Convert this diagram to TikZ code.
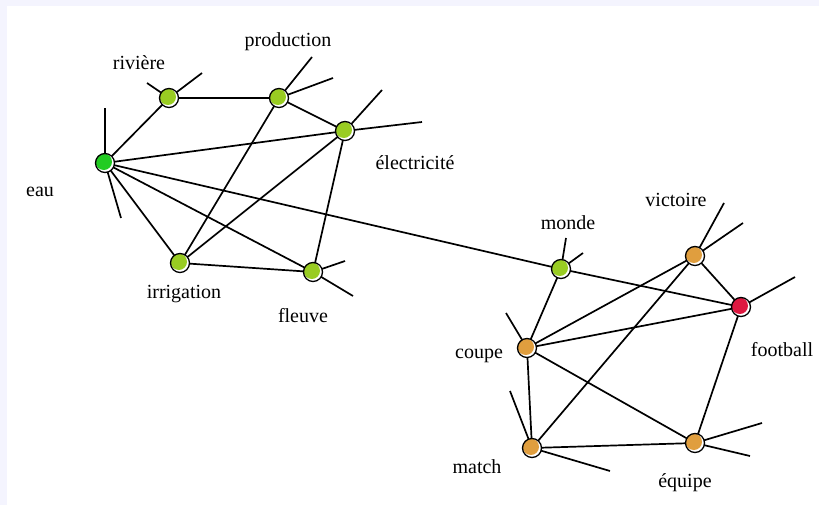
\documentclass[tikz,border=0pt]{standalone}
\usepackage{fontspec}
\setmainfont{Liberation Serif}
\definecolor{bgl}{HTML}{F4F4FE}
\definecolor{cgreen}{HTML}{22CC22}
\definecolor{clime}{HTML}{99CC22}
\definecolor{corange}{HTML}{E09E3E}
\definecolor{cred}{HTML}{DD1840}
\tikzset{
  edge/.style={line width=1.7pt, black},
  lbl/.style={font=\fontsize{20}{22}\selectfont, inner sep=0pt},
}
\newcommand{\vtx}[3]{%
  \fill[white] (#2) circle (9.5);
  \fill[#3] ($(#2)+(-1.2,-1.2)$) circle (8.2);
  \draw[line width=1.3pt] (#2) circle (9.5);
}
\usetikzlibrary{calc}
\begin{document}
\begin{tikzpicture}[x=1pt,y=-1pt]
\useasboundingbox (0,0) rectangle (819,505);
\fill[bgl] (0,0) rectangle (819,505);
\fill[white] (7,6) rectangle (819,505);
% coordinates
\coordinate (eau) at (105,163);
\coordinate (riv) at (169,98);
\coordinate (prod) at (279,98);
\coordinate (elec) at (345,131);
\coordinate (irr) at (180,263);
\coordinate (fle) at (313,272);
\coordinate (mon) at (561,269);
\coordinate (vic) at (695,256);
\coordinate (foot) at (741,307);
\coordinate (cou) at (527,348);
\coordinate (mat) at (532,448);
\coordinate (equ) at (695,443);
% stub ends
\coordinate (s1) at (105,108);
\coordinate (s2) at (121,218);
\coordinate (s3) at (147,83);
\coordinate (s4) at (202,73);
\coordinate (s5) at (312,57);
\coordinate (s6) at (333,78);
\coordinate (s7) at (382,90);
\coordinate (s8) at (422,122);
\coordinate (s9) at (345,261);
\coordinate (s10) at (353,296);
\coordinate (s11) at (566,238);
\coordinate (s12) at (583,253);
\coordinate (s13) at (724,203);
\coordinate (s14) at (743,223);
\coordinate (s15) at (795,277);
\coordinate (s16) at (506,313);
\coordinate (s17) at (510,391);
\coordinate (s18) at (610,471);
\coordinate (s19) at (762,423);
\coordinate (s20) at (750,456);
% edges
\draw[edge] (eau) -- (riv);
\draw[edge] (eau) -- (elec);
\draw[edge] (eau) -- (irr);
\draw[edge] (eau) -- (fle);
\draw[edge] (eau) -- (mon);
\draw[edge] (riv) -- (prod);
\draw[edge] (prod) -- (elec);
\draw[edge] (prod) -- (irr);
\draw[edge] (elec) -- (irr);
\draw[edge] (elec) -- (fle);
\draw[edge] (irr) -- (fle);
\draw[edge] (mon) -- (foot);
\draw[edge] (mon) -- (cou);
\draw[edge] (vic) -- (cou);
\draw[edge] (vic) -- (mat);
\draw[edge] (vic) -- (foot);
\draw[edge] (foot) -- (cou);
\draw[edge] (foot) -- (equ);
\draw[edge] (cou) -- (mat);
\draw[edge] (cou) -- (equ);
\draw[edge] (mat) -- (equ);
% stubs
\draw[edge] (eau) -- (s1);
\draw[edge] (eau) -- (s2);
\draw[edge] (riv) -- (s3);
\draw[edge] (riv) -- (s4);
\draw[edge] (prod) -- (s5);
\draw[edge] (prod) -- (s6);
\draw[edge] (elec) -- (s7);
\draw[edge] (elec) -- (s8);
\draw[edge] (fle) -- (s9);
\draw[edge] (fle) -- (s10);
\draw[edge] (mon) -- (s11);
\draw[edge] (mon) -- (s12);
\draw[edge] (vic) -- (s13);
\draw[edge] (vic) -- (s14);
\draw[edge] (foot) -- (s15);
\draw[edge] (cou) -- (s16);
\draw[edge] (mat) -- (s17);
\draw[edge] (mat) -- (s18);
\draw[edge] (equ) -- (s19);
\draw[edge] (equ) -- (s20);
% vertices
\vtx{a}{eau}{cgreen}
\vtx{a}{riv}{clime}
\vtx{a}{prod}{clime}
\vtx{a}{elec}{clime}
\vtx{a}{irr}{clime}
\vtx{a}{fle}{clime}
\vtx{a}{mon}{clime}
\vtx{a}{vic}{corange}
\vtx{a}{foot}{cred}
\vtx{a}{cou}{corange}
\vtx{a}{mat}{corange}
\vtx{a}{equ}{corange}
% labels
\node[lbl] (leau) at (40,192) {eau};
\node[lbl] (lriv) at (139,63) {rivière};
\node[lbl] (lprod) at (288,42) {production};
\node[lbl] (lelec) at (415,163) {électricité};
\node[lbl] (lirr) at (184,294) {irrigation};
\node[lbl] (lfle) at (303,316) {fleuve};
\node[lbl] (lmon) at (568,223) {monde};
\node[lbl] (lvic) at (676,200) {victoire};
\node[lbl] (lfoot) at (782,350) {football};
\node[lbl] (lcou) at (479,356) {coupe};
\node[lbl] (lmat) at (477,467) {match};
\node[lbl] (lequ) at (685,483) {équipe};
\end{tikzpicture}
\end{document}
